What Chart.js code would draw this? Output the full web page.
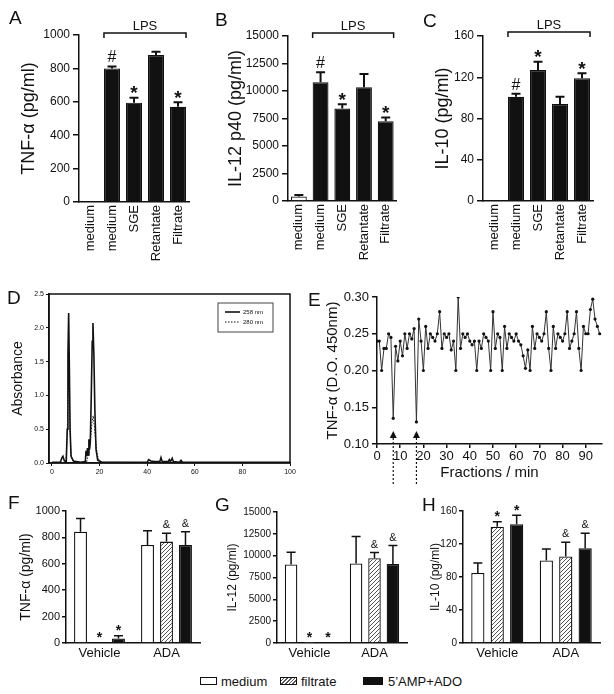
<!DOCTYPE html>
<html>
<head>
<meta charset="utf-8">
<title>Cytokine responses and SGE fractions</title>
<script src="https://cdn.jsdelivr.net/npm/chart.js@4.4.1/dist/chart.umd.min.js"></script>
<style>
  body { margin: 0; background: #fff; }
  #page { position: relative; width: 614px; height: 694px; overflow: hidden; font-family: "Liberation Sans", Arial, sans-serif; color: #111; }
  #page canvas { position: absolute; }
  .panel { position: absolute; font-size: 19px; line-height: 19px; }
  .key { position: absolute; top: 674px; font-size: 13px; line-height: 15px; }
  .swatch { position: absolute; top: 677px; height: 8px; box-sizing: border-box; border: 1px solid #111; }
</style>
</head>
<body>
<div id="page">
  <canvas id="chartA" width="200" height="280" style="left:0;top:0"></canvas>
  <canvas id="chartB" width="205" height="280" style="left:200px;top:0"></canvas>
  <canvas id="chartC" width="209" height="280" style="left:405px;top:0"></canvas>
  <canvas id="chartD" width="300" height="200" style="left:0;top:282px"></canvas>
  <canvas id="chartE" width="314" height="210" style="left:300px;top:282px"></canvas>
  <canvas id="chartF" width="205" height="175" style="left:0;top:495px"></canvas>
  <canvas id="chartG" width="205" height="175" style="left:205px;top:495px"></canvas>
  <canvas id="chartH" width="204" height="175" style="left:410px;top:495px"></canvas>

  <div class="panel" style="left:9px;top:8px">A</div>
  <div class="panel" style="left:215px;top:10px">B</div>
  <div class="panel" style="left:423px;top:11px">C</div>
  <div class="panel" style="left:7px;top:288px">D</div>
  <div class="panel" style="left:308px;top:290px">E</div>
  <div class="panel" style="left:8px;top:493px">F</div>
  <div class="panel" style="left:215px;top:495px">G</div>
  <div class="panel" style="left:422px;top:495px">H</div>

  <div class="swatch" style="left:200px;width:17px;background:#fff"></div>
  <div class="key" style="left:221px">medium</div>
  <div class="swatch" style="left:280px;width:17px;background:repeating-linear-gradient(135deg,#fff 0 1.5px,#555 1.5px 2.6px)"></div>
  <div class="key" style="left:301px">filtrate</div>
  <div class="swatch" style="left:363px;width:20px;background:#111"></div>
  <div class="key" style="left:388px">5’AMP+ADO</div>
</div>
<script>
(function () {
  'use strict';

  // A-C: LPS stimulated cells
  var lpsLabels = ['medium', 'medium', 'SGE', 'Retantate', 'Filtrate'];
  var lpsMarks = ['', '#', '*', '', '*'];
  var tnfValues = [0, 800, 595, 880, 570];
  var tnfErrors = [0, 12, 30, 20, 28];
  var il12p40Values = [400, 10800, 8400, 10350, 7250];
  var il12p40Errors = [150, 900, 400, 1200, 350];
  var il10Values = [0, 101, 127, 94, 119];
  var il10Errors = [0, 3, 8, 7, 5];

  // D: absorbance profile
  var abs258X = [0, 3.5, 4.2, 4.6, 5.2, 6.0, 6.4, 6.7, 7.0, 7.3, 7.6, 8.0, 9.0, 12, 14.0, 14.3, 14.6, 14.9, 15.2, 15.5,
    15.8, 16.1, 16.5, 16.9, 17.2, 17.6, 18.0, 18.5, 19.2, 21, 30, 40, 40.6, 41.5, 43, 45.3, 45.8, 46.3, 48.8, 49.3,
    49.8, 50.5, 51, 53.5, 54.2, 54.8, 60, 100];
  var abs258Y = [0.01, 0.01, 0.08, 0.1, 0.03, 0.02, 0.5, 1.6, 2.22, 1.4, 0.5, 0.1, 0.03, 0.01, 0.02, 0.18, 0.1, 0.22, 0.12, 0.35,
    0.2, 0.32, 1.0, 1.8, 2.07, 1.6, 0.8, 0.2, 0.04, 0.01, 0.01, 0.01, 0.05, 0.03, 0.02, 0.02, 0.08, 0.02, 0.02, 0.05,
    0.02, 0.07, 0.02, 0.01, 0.04, 0.01, 0.01, 0.01];
  var abs280X = [0, 5.8, 6.4, 6.8, 7.1, 7.5, 8.0, 8.8, 10, 14.5, 15.5, 16.2, 16.8, 17.3, 17.8, 18.4, 19.0, 19.8, 21, 100];
  var abs280Y = [0, 0.01, 0.4, 1.2, 1.45, 0.6, 0.12, 0.03, 0.01, 0.01, 0.15, 0.35, 0.6, 0.7, 0.55, 0.3, 0.12, 0.04, 0.01, 0];

  // E: TNF-a per fraction (one per minute)
  var fractionOD = [
    0.24, 0.24, 0.20, 0.23, 0.23, 0.25, 0.245, 0.135, 0.233, 0.213,
    0.24, 0.22, 0.25, 0.23, 0.25, 0.243, 0.257, 0.13, 0.27, 0.24,
    0.20, 0.26, 0.23, 0.25, 0.245, 0.24, 0.25, 0.28, 0.23, 0.25,
    0.245, 0.25, 0.228, 0.24, 0.20, 0.30, 0.23, 0.25, 0.245, 0.25,
    0.24, 0.235, 0.24, 0.20, 0.24, 0.23, 0.25, 0.245, 0.24, 0.20,
    0.28, 0.23, 0.25, 0.245, 0.20, 0.26, 0.23, 0.25, 0.245, 0.24,
    0.25, 0.24, 0.235, 0.22, 0.203, 0.228, 0.20, 0.26, 0.23, 0.25,
    0.245, 0.24, 0.25, 0.28, 0.23, 0.20, 0.26, 0.23, 0.25, 0.245,
    0.24, 0.25, 0.28, 0.23, 0.24, 0.25, 0.28, 0.23, 0.20, 0.26,
    0.25, 0.25, 0.283, 0.297, 0.27, 0.26, 0.25];
  var arrowFractions = [7, 17];

  // F-H: vehicle vs ADA
  var groupLabels = ['Vehicle', 'ADA'];
  var treatmentNames = ['medium', 'filtrate', '5’AMP+ADO'];
  var mediumMarks = ['', ''];
  var filtrateMarks = ['*', '&'];
  var ampMarks = ['*', '&'];
  var tnfMedium = [843, 742];
  var tnfMediumErr = [101, 109];
  var tnfFiltrate = [5, 768];
  var tnfFiltrateErr = [0, 63];
  var tnfAmp = [35, 742];
  var tnfAmpErr = [20, 101];
  var il12Medium = [9000, 9100];
  var il12MediumErr = [1400, 3100];
  var il12Filtrate = [30, 9700];
  var il12FiltrateErr = [0, 650];
  var il12Amp = [60, 9050];
  var il12AmpErr = [0, 2100];
  var il10Medium = [85, 100];
  var il10MediumErr = [12, 14];
  var il10Filtrate = [141, 105];
  var il10FiltrateErr = [6, 17];
  var il10Amp = [144, 115];
  var il10AmpErr = [11, 18];

  var ink = '#111';
  var fontFamily = '"Liberation Sans", Arial, sans-serif';

  Chart.defaults.font.family = fontFamily;
  Chart.defaults.color = ink;
  Chart.defaults.animation = false;
  Chart.defaults.responsive = false;
  Chart.defaults.plugins.legend.display = false;
  Chart.defaults.plugins.tooltip.enabled = false;

  function makeHatch() {
    var c = document.createElement('canvas');
    c.width = 4;
    c.height = 4;
    var g = c.getContext('2d');
    g.fillStyle = '#fff';
    g.fillRect(0, 0, 4, 4);
    g.strokeStyle = '#555';
    g.lineWidth = 1;
    g.beginPath();
    g.moveTo(-1, 5); g.lineTo(5, -1);
    g.moveTo(-1, 1); g.lineTo(1, -1);
    g.moveTo(3, 5); g.lineTo(5, 3);
    g.stroke();
    return g.createPattern(c, 'repeat');
  }
  var hatch = makeHatch();

  function pairs(xs, ys) {
    return xs.map(function (x, i) { return { x: x, y: ys[i] }; });
  }

  function plain(v) {
    return String(v);
  }

  var errorBars = {
    id: 'errorBars',
    afterDatasetsDraw: function (chart, args, opts) {
      var ctx = chart.ctx;
      var yScale = chart.scales.y;
      chart.data.datasets.forEach(function (ds, di) {
        if (!ds.errors) return;
        chart.getDatasetMeta(di).data.forEach(function (bar, i) {
          var err = ds.errors[i];
          if (!err) return;
          var top = yScale.getPixelForValue(ds.data[i] + err);
          ctx.save();
          ctx.strokeStyle = ink;
          ctx.lineWidth = opts.lineWidth;
          ctx.beginPath();
          ctx.moveTo(bar.x, bar.y);
          ctx.lineTo(bar.x, top);
          ctx.moveTo(bar.x - opts.cap / 2, top);
          ctx.lineTo(bar.x + opts.cap / 2, top);
          ctx.stroke();
          ctx.restore();
        });
      });
    }
  };

  var markPlugin = {
    id: 'marks',
    afterDatasetsDraw: function (chart, args, opts) {
      var ctx = chart.ctx;
      var yScale = chart.scales.y;
      chart.data.datasets.forEach(function (ds, di) {
        if (!ds.marks) return;
        chart.getDatasetMeta(di).data.forEach(function (bar, i) {
          var m = ds.marks[i];
          if (!m) return;
          var top = yScale.getPixelForValue(ds.data[i] + (ds.errors ? ds.errors[i] : 0));
          var star = m === '*';
          var size = star ? opts.starSize : opts.size;
          var cy = top - opts.gap;
          ctx.save();
          ctx.font = (star ? 'bold ' : '') + size + 'px ' + fontFamily;
          ctx.fillStyle = ink;
          ctx.textAlign = 'center';
          ctx.textBaseline = 'alphabetic';
          ctx.fillText(m, bar.x, cy + (star ? 0.6 : 0.36) * size);
          ctx.restore();
        });
      });
    }
  };

  var bracketPlugin = {
    id: 'bracket',
    afterDraw: function (chart, args, opts) {
      var meta = chart.getDatasetMeta(0);
      var a = meta.data[opts.from];
      var b = meta.data[opts.to];
      var x1 = a.x - a.width / 2;
      var x2 = b.x + b.width / 2;
      var ctx = chart.ctx;
      ctx.save();
      ctx.strokeStyle = ink;
      ctx.lineWidth = 1.5;
      ctx.beginPath();
      ctx.moveTo(x1, opts.y + opts.drop);
      ctx.lineTo(x1, opts.y);
      ctx.lineTo(x2, opts.y);
      ctx.lineTo(x2, opts.y + opts.drop);
      ctx.stroke();
      ctx.font = opts.size + 'px ' + fontFamily;
      ctx.fillStyle = ink;
      ctx.textAlign = 'center';
      ctx.textBaseline = 'alphabetic';
      ctx.fillText(opts.text, (x1 + x2) / 2, opts.y - 3);
      ctx.restore();
    }
  };

  // box round D plus its little legend
  var boxFrame = {
    id: 'boxFrame',
    afterDraw: function (chart) {
      var ctx = chart.ctx;
      var area = chart.chartArea;
      ctx.save();
      ctx.strokeStyle = ink;
      ctx.lineWidth = 1.5;
      ctx.strokeRect(area.left, area.top, area.right - area.left, area.bottom - area.top);
      var lx = area.right - 72;
      var ly = area.top + 9;
      ctx.lineWidth = 1;
      ctx.strokeStyle = '#444';
      ctx.strokeRect(lx, ly, 55, 29);
      ctx.font = '6px ' + fontFamily;
      ctx.fillStyle = ink;
      ctx.textBaseline = 'middle';
      chart.data.datasets.forEach(function (ds, i) {
        var y = ly + 9 + i * 10;
        ctx.strokeStyle = ink;
        ctx.lineWidth = ds.borderWidth;
        ctx.setLineDash(ds.borderDash || []);
        ctx.beginPath();
        ctx.moveTo(lx + 7, y);
        ctx.lineTo(lx + 22, y);
        ctx.stroke();
        ctx.fillText(ds.label, lx + 25, y);
      });
      ctx.restore();
    }
  };

  var arrowPlugin = {
    id: 'arrows',
    afterDraw: function (chart, args, opts) {
      var ctx = chart.ctx;
      var bottom = chart.chartArea.bottom;
      var xScale = chart.scales.x;
      opts.at.forEach(function (f) {
        var x = xScale.getPixelForValue(f);
        ctx.save();
        ctx.fillStyle = ink;
        ctx.beginPath();
        ctx.moveTo(x, bottom - 13);
        ctx.lineTo(x - 3.5, bottom - 6);
        ctx.lineTo(x + 3.5, bottom - 6);
        ctx.closePath();
        ctx.fill();
        ctx.strokeStyle = ink;
        ctx.lineWidth = 1.2;
        ctx.setLineDash([2, 2]);
        ctx.beginPath();
        ctx.moveTo(x, bottom - 6);
        ctx.lineTo(x, bottom + 41);
        ctx.stroke();
        ctx.restore();
      });
    }
  };

  function valueAxis(o) {
    return {
      min: 0,
      max: o.max,
      ticks: { stepSize: o.step, font: { size: o.tickSize }, padding: o.tickPad, color: ink, callback: plain },
      grid: { drawOnChartArea: false, color: ink, lineWidth: 1.5, tickLength: o.tickLength },
      border: { color: ink, width: 1.5 },
      title: { display: true, text: o.title, color: ink, font: { size: o.titleSize }, padding: { top: o.titlePad, bottom: 0 } },
      afterFit: function (scale) { scale.width = o.width; }
    };
  }

  function lpsChart(id, values, errors, o) {
    return new Chart(document.getElementById(id), {
      type: 'bar',
      data: {
        labels: lpsLabels,
        datasets: [{
          data: values,
          errors: errors,
          marks: lpsMarks,
          backgroundColor: lpsLabels.map(function (l, i) { return i === 0 ? '#fff' : ink; }),
          borderColor: ink,
          borderWidth: 1.2,
          barPercentage: 0.73,
          categoryPercentage: 1
        }]
      },
      options: {
        layout: { autoPadding: false, padding: { top: o.top, right: o.right, left: 0, bottom: 0 } },
        plugins: {
          errorBars: { lineWidth: 2, cap: 9 },
          marks: { size: 16, starSize: 19, gap: 10 },
          bracket: { from: 1, to: 4, y: o.bracketY, drop: 5, text: 'LPS', size: 13 }
        },
        scales: {
          x: {
            grid: { display: false, drawTicks: false },
            border: { color: ink, width: 1.5 },
            ticks: { autoSkip: false, minRotation: 90, maxRotation: 90, padding: 3, font: { size: 13 }, color: ink },
            afterFit: function (scale) { scale.height = o.xHeight; }
          },
          y: valueAxis({ max: o.max, step: o.step, tickSize: 12, tickPad: 3, tickLength: 6,
            title: o.title, titleSize: 18, titlePad: o.titlePad, width: o.width })
        }
      },
      plugins: [errorBars, markPlugin, bracketPlugin]
    });
  }

  function adaChart(id, sets, o) {
    var fills = ['#fff', hatch, ink];
    return new Chart(document.getElementById(id), {
      type: 'bar',
      data: {
        labels: groupLabels,
        datasets: sets.map(function (s, i) {
          return {
            label: treatmentNames[i],
            data: s[0],
            errors: s[1],
            marks: s[2],
            backgroundColor: fills[i],
            borderColor: ink,
            borderWidth: 1.3,
            barPercentage: 0.68,
            categoryPercentage: 0.85
          };
        })
      },
      options: {
        layout: { autoPadding: false, padding: { top: o.top, right: o.right, left: 0, bottom: 0 } },
        plugins: {
          errorBars: { lineWidth: 1.5, cap: 9 },
          marks: { size: 11, starSize: 14, gap: 9 }
        },
        scales: {
          x: {
            grid: { display: false, drawTicks: false },
            border: { color: ink, width: 1.5 },
            ticks: { padding: 3, font: { size: 13 }, color: ink },
            afterFit: function (scale) { scale.height = 27; }
          },
          y: valueAxis({ max: o.max, step: o.step, tickSize: o.tickSize, tickPad: 2, tickLength: 4,
            title: o.title, titleSize: o.titleSize, titlePad: o.titlePad, width: o.width })
        }
      },
      plugins: [errorBars, markPlugin]
    });
  }

  lpsChart('chartA', tnfValues, tnfErrors, { top: 35, right: 11, width: 79, xHeight: 78, bracketY: 33,
    max: 1000, step: 200, title: 'TNF-α (pg/ml)', titlePad: 18 });
  lpsChart('chartB', il12p40Values, il12p40Errors, { top: 36, right: 7, width: 88, xHeight: 79, bracketY: 33,
    max: 15000, step: 2500, title: 'IL-12 p40 (pg/ml)', titlePad: 25 });
  lpsChart('chartC', il10Values, il10Errors, { top: 36, right: 21, width: 78, xHeight: 79, bracketY: 32,
    max: 160, step: 40, title: 'IL-10 (pg/ml)', titlePad: 27 });

  new Chart(document.getElementById('chartD'), {
    type: 'line',
    data: {
      datasets: [
        { label: '258 nm', data: pairs(abs258X, abs258Y), borderColor: ink, borderWidth: 1.6, pointRadius: 0, tension: 0 },
        { label: '280 nm', data: pairs(abs280X, abs280Y), borderColor: ink, borderWidth: 1, borderDash: [1.5, 1.5], pointRadius: 0, tension: 0 }
      ]
    },
    options: {
      layout: { autoPadding: false, padding: { top: 12, right: 10, left: 0, bottom: 0 } },
      scales: {
        x: {
          type: 'linear', min: -1.26, max: 100,
          ticks: { stepSize: 20, includeBounds: false, font: { size: 7 }, padding: 2, color: ink, callback: plain },
          grid: { drawOnChartArea: false, color: ink, tickLength: 3 },
          border: { color: ink, width: 1.5 },
          afterFit: function (scale) { scale.height = 19; }
        },
        y: {
          min: 0, max: 2.5,
          ticks: { stepSize: 0.5, font: { size: 7 }, padding: 2, color: ink,
            callback: function (v) { return v.toFixed(1); } },
          grid: { drawOnChartArea: false, color: ink, tickLength: 3 },
          border: { color: ink, width: 1.5 },
          title: { display: true, text: 'Absorbance', color: ink, font: { size: 14 }, padding: { top: 10, bottom: 0 } },
          afterFit: function (scale) { scale.width = 49; }
        }
      }
    },
    plugins: [boxFrame]
  });

  new Chart(document.getElementById('chartE'), {
    type: 'line',
    data: {
      datasets: [{
        label: 'TNF-α',
        data: fractionOD.map(function (v, i) { return { x: i, y: v }; }),
        borderColor: '#333',
        borderWidth: 1,
        pointRadius: 1.6,
        pointBackgroundColor: ink,
        pointBorderWidth: 0,
        tension: 0
      }]
    },
    options: {
      layout: { autoPadding: false, padding: { top: 15, right: 12, left: 0, bottom: 0 } },
      plugins: { arrows: { at: arrowFractions } },
      scales: {
        x: {
          type: 'linear', min: 0, max: 97,
          ticks: { stepSize: 10, includeBounds: false, font: { size: 13 }, padding: 1, color: ink, callback: plain },
          grid: { drawOnChartArea: false, color: ink, lineWidth: 1.5, tickLength: 4 },
          border: { color: ink, width: 1.5 },
          title: { display: true, text: 'Fractions / min', color: ink, font: { size: 15 }, padding: { top: 0, bottom: 10 } },
          afterFit: function (scale) { scale.height = 48; }
        },
        y: {
          min: 0.1, max: 0.3,
          ticks: { stepSize: 0.05, font: { size: 13 }, padding: 3, color: ink,
            callback: function (v) { return v.toFixed(2); } },
          grid: { drawOnChartArea: false, color: ink, lineWidth: 1.5, tickLength: 5 },
          border: { color: ink, width: 1.5 },
          title: { display: true, text: 'TNF-α (D.O. 450nm)', color: ink, font: { size: 15 }, padding: { top: 24, bottom: 0 } },
          afterFit: function (scale) { scale.width = 77; }
        }
      }
    },
    plugins: [arrowPlugin]
  });

  adaChart('chartF', [[tnfMedium, tnfMediumErr, mediumMarks], [tnfFiltrate, tnfFiltrateErr, filtrateMarks], [tnfAmp, tnfAmpErr, ampMarks]],
    { top: 16, right: 5, width: 66, max: 1000, step: 200, tickSize: 11, title: 'TNF-α (pg/ml)', titleSize: 14, titlePad: 18 });
  adaChart('chartG', [[il12Medium, il12MediumErr, mediumMarks], [il12Filtrate, il12FiltrateErr, filtrateMarks], [il12Amp, il12AmpErr, ampMarks]],
    { top: 17, right: 3, width: 72, max: 15000, step: 2500, tickSize: 10, title: 'IL-12 (pg/ml)', titleSize: 12, titlePad: 20 });
  adaChart('chartH', [[il10Medium, il10MediumErr, mediumMarks], [il10Filtrate, il10FiltrateErr, filtrateMarks], [il10Amp, il10AmpErr, ampMarks]],
    { top: 16, right: 14, width: 53, max: 160, step: 40, tickSize: 10, title: 'IL-10 (pg/ml)', titleSize: 12, titlePad: 18 });
})();
</script>
</body>
</html>
